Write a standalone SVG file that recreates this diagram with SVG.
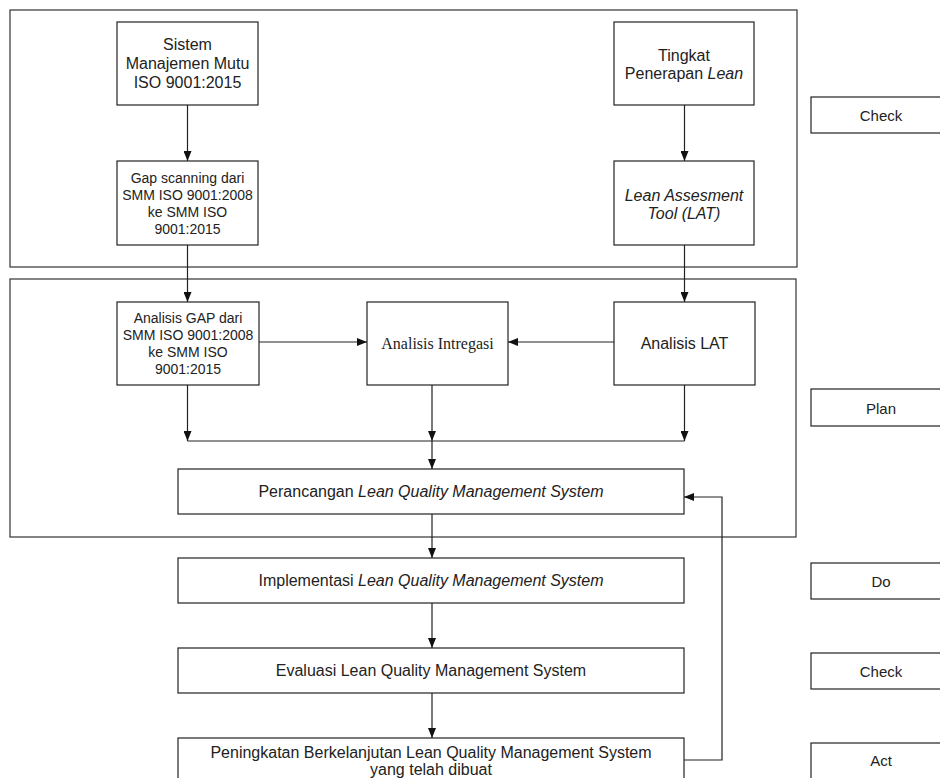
<svg xmlns="http://www.w3.org/2000/svg" width="940" height="778" viewBox="0 0 940 778">
<style>
.bx{fill:#fff;stroke:#222;stroke-width:1.2}
.ob{fill:none;stroke:#333;stroke-width:1.2}
.ln{fill:none;stroke:#222;stroke-width:1.2}
text{font-family:"Liberation Sans",Arial,sans-serif;fill:#222;text-anchor:middle}
.t16{font-size:16px}
.t14{font-size:14px}
.t15{font-size:15px}
.sr{font-family:"Liberation Serif","Times New Roman",serif;font-size:16px}
.it{font-style:italic}
</style>
<defs>
<marker id="ah" markerWidth="10" markerHeight="8" refX="10" refY="4" orient="auto" markerUnits="userSpaceOnUse">
<path d="M0,0 L10,4 L0,8 Z" fill="#111"/>
</marker>
</defs>
<rect width="940" height="778" fill="#fff"/>
<g id="frames">
<rect class="ob" x="10" y="10" width="787" height="257"/>
<rect class="ob" x="10" y="279" width="786" height="258"/>
</g>
<g id="connectors">
<line class="ln" x1="187.5" y1="105" x2="187.5" y2="161" marker-end="url(#ah)"/>
<line class="ln" x1="187.5" y1="245" x2="187.5" y2="302" marker-end="url(#ah)"/>
<line class="ln" x1="684.5" y1="105" x2="684.5" y2="161" marker-end="url(#ah)"/>
<line class="ln" x1="684.5" y1="245" x2="684.5" y2="302" marker-end="url(#ah)"/>
<line class="ln" x1="259" y1="342" x2="367" y2="342" marker-end="url(#ah)"/>
<line class="ln" x1="614" y1="342" x2="508" y2="342" marker-end="url(#ah)"/>
<line class="ln" x1="187.5" y1="385" x2="187.5" y2="441" marker-end="url(#ah)"/>
<line class="ln" x1="432" y1="385" x2="432" y2="441" marker-end="url(#ah)"/>
<line class="ln" x1="684.5" y1="385" x2="684.5" y2="441" marker-end="url(#ah)"/>
<line class="ln" x1="187.5" y1="441" x2="684.5" y2="441"/>
<line class="ln" x1="432" y1="441" x2="432" y2="469" marker-end="url(#ah)"/>
<line class="ln" x1="432" y1="514" x2="432" y2="558" marker-end="url(#ah)"/>
<line class="ln" x1="432" y1="603" x2="432" y2="648" marker-end="url(#ah)"/>
<line class="ln" x1="432" y1="693" x2="432" y2="738" marker-end="url(#ah)"/>
<polyline class="ln" points="684,760 722,760 722,497 684,497" marker-end="url(#ah)"/>
</g>
<g id="n-sistem">
<rect class="bx" x="117" y="22" width="141" height="83"/>
<text class="t16" x="187.5" y="49.5">Sistem</text>
<text class="t16" x="187.5" y="68.5">Manajemen Mutu</text>
<text class="t16" x="187.5" y="87.5">ISO 9001:2015</text>
</g>
<g id="n-tingkat">
<rect class="bx" x="614" y="22" width="140" height="83"/>
<text class="t16" x="684" y="60.5">Tingkat</text>
<text class="t16" x="684" y="78.5">Penerapan <tspan class="it">Lean</tspan></text>
</g>
<g id="n-check1">
<rect class="bx" x="811" y="97" width="140" height="36"/>
<text class="t15" x="881" y="120.5">Check</text>
</g>
<g id="n-gapscan">
<rect class="bx" x="117" y="161" width="141" height="84"/>
<text class="t14" x="187.5" y="183">Gap scanning dari</text>
<text class="t14" x="187.5" y="200">SMM ISO 9001:2008</text>
<text class="t14" x="187.5" y="217">ke SMM ISO</text>
<text class="t14" x="187.5" y="234">9001:2015</text>
</g>
<g id="n-lat">
<rect class="bx" x="614" y="161" width="140" height="84"/>
<text class="t16 it" x="684" y="200.5">Lean Assesment</text>
<text class="t16 it" x="684" y="218.5">Tool (LAT)</text>
</g>
<g id="n-gap">
<rect class="bx" x="117" y="302" width="142" height="83"/>
<text class="t14" x="188" y="323">Analisis GAP dari</text>
<text class="t14" x="188" y="340">SMM ISO 9001:2008</text>
<text class="t14" x="188" y="357">ke SMM ISO</text>
<text class="t14" x="188" y="374">9001:2015</text>
</g>
<g id="n-integrasi">
<rect class="bx" x="367" y="302" width="141" height="83"/>
<text class="sr" x="437.5" y="348.5">Analisis Intregasi</text>
</g>
<g id="n-analat">
<rect class="bx" x="614" y="302" width="141" height="83"/>
<text class="t16" x="684.5" y="348.5">Analisis LAT</text>
</g>
<g id="n-plan">
<rect class="bx" x="811" y="389" width="140" height="37"/>
<text class="t15" x="881" y="413.5">Plan</text>
</g>
<g id="n-perancangan">
<rect class="bx" x="178" y="469" width="506" height="45"/>
<text class="t16" x="431" y="497">Perancangan <tspan class="it">Lean Quality Management System</tspan></text>
</g>
<g id="n-implementasi">
<rect class="bx" x="178" y="558" width="506" height="45"/>
<text class="t16" x="431" y="586">Implementasi <tspan class="it">Lean Quality Management System</tspan></text>
</g>
<g id="n-do">
<rect class="bx" x="811" y="563" width="140" height="36"/>
<text class="t15" x="881" y="586.5">Do</text>
</g>
<g id="n-evaluasi">
<rect class="bx" x="178" y="648" width="506" height="45"/>
<text class="t16" x="431" y="676">Evaluasi Lean Quality Management System</text>
</g>
<g id="n-check2">
<rect class="bx" x="811" y="653" width="140" height="36"/>
<text class="t15" x="881" y="676.5">Check</text>
</g>
<g id="n-peningkatan">
<rect class="bx" x="178" y="738" width="506" height="46"/>
<text class="t16" x="431" y="757.5">Peningkatan Berkelanjutan Lean Quality Management System</text>
<text class="t16" x="431" y="774.5">yang telah dibuat</text>
</g>
<g id="n-act">
<rect class="bx" x="811" y="743" width="140" height="37"/>
<text class="t15" x="881" y="765.5">Act</text>
</g>
</svg>
